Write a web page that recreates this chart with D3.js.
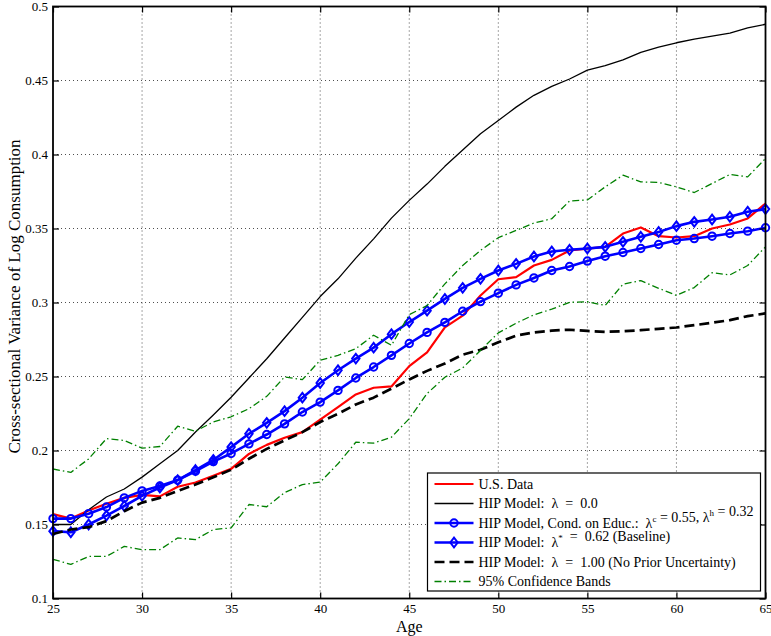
<!DOCTYPE html>
<html>
<head>
<meta charset="utf-8">
<script src="https://cdn.jsdelivr.net/npm/d3@7"></script>
<style>
  html, body { margin: 0; padding: 0; background: #fff; }
  svg text { font-family: "Liberation Serif", "Times New Roman", serif; white-space: pre; }
</style>
</head>
<body>
<svg id="chart" width="771" height="636"></svg>
<script>
// Ages on the horizontal axis
const ages = [25,26,27,28,29,30,31,32,33,34,35,36,37,38,39,40,41,42,43,44,45,
              46,47,48,49,50,51,52,53,54,55,56,57,58,59,60,61,62,63,64,65];

// Cross-sectional variance of log consumption by age
const usData = [0.157,0.154,0.1595,0.164,0.168,0.170,0.169,0.1755,0.1784,0.183,0.1876,
  0.1977,0.2038,0.2086,0.2124,0.2208,0.2293,0.2379,0.2424,0.2433,0.257,
  0.2663,0.2832,0.2911,0.3047,0.3157,0.3171,0.325,0.3288,0.3352,0.3364,
  0.3376,0.3466,0.3507,0.3448,0.3439,0.3448,0.350,0.3527,0.3568,0.3669];

const hipLambda0 = [0.150,0.150,0.160,0.1686,0.174,0.182,0.191,0.200,0.2125,0.224,0.236,
  0.249,0.262,0.276,0.290,0.304,0.316,0.330,0.343,0.357,0.369,
  0.380,0.392,0.403,0.414,0.423,0.432,0.440,0.446,0.451,0.457,
  0.460,0.464,0.469,0.4725,0.4755,0.478,0.480,0.482,0.4855,0.488];

const hipEduc = [0.154,0.154,0.1573,0.1618,0.168,0.1727,0.176,0.180,0.186,0.1925,0.198,
  0.2045,0.2108,0.218,0.226,0.2327,0.2406,0.249,0.2564,0.2643,0.2723,
  0.2798,0.2866,0.2941,0.3006,0.3063,0.3119,0.3166,0.3216,0.3243,0.328,
  0.3313,0.3338,0.3365,0.3392,0.3421,0.3432,0.3448,0.3466,0.3482,0.3505];

const hipBaseline = [0.1455,0.1448,0.150,0.156,0.1625,0.1693,0.175,0.180,0.1868,0.1936,0.2023,
  0.2113,0.2187,0.2266,0.2357,0.2456,0.2542,0.2621,0.2695,0.2786,0.2868,
  0.2945,0.3024,0.3099,0.316,0.3216,0.3261,0.3311,0.3345,0.3356,0.3365,
  0.3376,0.341,0.3444,0.3477,0.3516,0.3545,0.3561,0.3579,0.3613,0.3631];

const hipLambda1 = [0.1436,0.1466,0.1482,0.1523,0.159,0.1648,0.168,0.1727,0.177,0.182,0.187,
  0.1944,0.2011,0.2068,0.2124,0.2192,0.2248,0.2311,0.2357,0.2418,0.248,
  0.2538,0.2588,0.2647,0.2681,0.2731,0.2776,0.2798,0.281,0.2816,0.2808,
  0.2802,0.2806,0.2813,0.2822,0.2831,0.2847,0.2863,0.2881,0.2908,0.2926];

const bandUpper = [0.1875,0.1852,0.1943,0.208,0.2068,0.2016,0.2027,0.2164,0.213,0.2193,0.2228,
  0.2282,0.2366,0.2497,0.2479,0.261,0.2643,0.2688,0.2779,0.2711,0.2918,
  0.2979,0.3126,0.325,0.3352,0.3438,0.3487,0.3537,0.3566,0.3686,0.3693,
  0.3781,0.386,0.3815,0.3811,0.3781,0.3743,0.3804,0.3865,0.3849,0.3973];

const bandLower = [0.1265,0.1230,0.1284,0.1284,0.1352,0.133,0.133,0.1409,0.1398,0.1466,0.1477,
  0.1635,0.162,0.1715,0.177,0.1786,0.191,0.2056,0.205,0.209,0.2215,
  0.2385,0.2495,0.2558,0.2676,0.2795,0.286,0.2917,0.2955,0.3001,0.3005,
  0.2980,0.3124,0.3148,0.3096,0.3048,0.3101,0.3201,0.3186,0.3250,0.3376];

// Tick values and labels
const xTicks = [25,30,35,40,45,50,55,60,65];
const yTicks = [0.1,0.15,0.2,0.25,0.3,0.35,0.4,0.45,0.5];
const yTickLabels = ["0.1","0.15","0.2","0.25","0.3","0.35","0.4","0.45","0.5"];

// Legend entries (label parts: [text, superscript])
const legendLabels = [
  [["U.S. Data", null]],
  [["HIP Model:  \u03bb  =  0.0", null]],
  [["HIP Model, Cond. on Educ.:  \u03bb", "c"], [" = 0.55, \u03bb", "h"], [" = 0.32", null]],
  [["HIP Model:  \u03bb", "*"], ["  =  0.62 (Baseline)", null]],
  [["HIP Model:  \u03bb  =  1.00 (No Prior Uncertainty)", null]],
  [["95% Confidence Bands", null]]
];

const svg = d3.select("#chart");
const plot = { left: 53, right: 765.5, top: 6.5, bottom: 598.5 };

const x = d3.scaleLinear().domain([25, 65]).range([plot.left, plot.right]);
const y = d3.scaleLinear().domain([0.1, 0.5]).range([plot.bottom, plot.top]);

// Dotted grid
const grid = svg.append("g").attr("stroke", "#222").attr("stroke-width", 0.8)
  .attr("stroke-dasharray", "1,3");
grid.selectAll("line.v").data(xTicks.slice(1, -1)).join("line")
  .attr("x1", d => x(d)).attr("x2", d => x(d))
  .attr("y1", plot.top).attr("y2", plot.bottom);
grid.selectAll("line.h").data(yTicks.slice(1, -1)).join("line")
  .attr("x1", plot.left).attr("x2", plot.right)
  .attr("y1", d => y(d)).attr("y2", d => y(d));

// Series styles
const series = [
  { values: usData,      color: "#ff0000", width: 2.2, dash: null },
  { values: hipLambda0,  color: "#000000", width: 1.3, dash: null },
  { values: hipEduc,     color: "#0000ff", width: 2.6, dash: null, marker: "circle" },
  { values: hipBaseline, color: "#0000ff", width: 2.6, dash: null, marker: "diamond" },
  { values: hipLambda1,  color: "#000000", width: 2.7, dash: "10,5" },
  { values: bandUpper,   color: "#008000", width: 1.3, dash: "7,3,1.5,3" },
  { values: bandLower,   color: "#008000", width: 1.3, dash: "7,3,1.5,3" }
];

const line = d3.line().x(d => x(d[0])).y(d => y(d[1]));
const diamondPath = "M0,-4.8L3.7,0L0,4.8L-3.7,0Z";

const dataLayer = svg.append("g");
series.forEach(s => {
  const pts = ages.map((a, i) => [a, s.values[i]]);
  dataLayer.append("path")
    .attr("d", line(pts))
    .attr("fill", "none")
    .attr("stroke", s.color)
    .attr("stroke-width", s.width)
    .attr("stroke-linejoin", "round")
    .attr("stroke-dasharray", s.dash);
  if (s.marker === "circle") {
    dataLayer.append("g").selectAll("circle").data(pts).join("circle")
      .attr("cx", d => x(d[0])).attr("cy", d => y(d[1])).attr("r", 3.7)
      .attr("fill", "none").attr("stroke", s.color).attr("stroke-width", 2);
  } else if (s.marker === "diamond") {
    dataLayer.append("g").selectAll("path").data(pts).join("path")
      .attr("transform", d => `translate(${x(d[0])},${y(d[1])})`)
      .attr("d", diamondPath)
      .attr("fill", "none").attr("stroke", s.color).attr("stroke-width", 2);
  }
});

// Axes with inward ticks on all four sides
const fontSize = 13;
const xAxis = svg.append("g").attr("transform", `translate(0,${plot.bottom})`)
  .call(d3.axisBottom(x).tickValues(xTicks).tickFormat(d3.format("d"))
    .tickSizeInner(-6).tickSizeOuter(0).tickPadding(5));
const yAxis = svg.append("g").attr("transform", `translate(${plot.left},0)`)
  .call(d3.axisLeft(y).tickValues(yTicks).tickFormat((d, i) => yTickLabels[i])
    .tickSizeInner(-6).tickSizeOuter(0).tickPadding(5));
const xTop = svg.append("g").attr("transform", `translate(0,${plot.top})`)
  .call(d3.axisTop(x).tickValues(xTicks).tickFormat("").tickSizeInner(-6).tickSizeOuter(0));
const yRight = svg.append("g").attr("transform", `translate(${plot.right},0)`)
  .call(d3.axisRight(y).tickValues(yTicks).tickFormat("").tickSizeInner(-6).tickSizeOuter(0));

[xAxis, yAxis, xTop, yRight].forEach(g => {
  g.select(".domain").remove();
  g.selectAll(".tick line").attr("stroke", "#000").attr("stroke-width", 1.2);
  g.selectAll("text").attr("fill", "#000").attr("font-size", fontSize)
    .attr("font-family", "Liberation Serif, Times New Roman, serif");
});

// Frame
svg.append("rect")
  .attr("x", plot.left).attr("y", plot.top)
  .attr("width", plot.right - plot.left).attr("height", plot.bottom - plot.top)
  .attr("fill", "none").attr("stroke", "#000").attr("stroke-width", 1.8);

// Axis titles
svg.append("text")
  .attr("x", (plot.left + plot.right) / 2).attr("y", 632)
  .attr("text-anchor", "middle").attr("font-size", 16)
  .text("Age");
svg.append("text")
  .attr("transform", `translate(20,${(plot.top + plot.bottom) / 2 - 6}) rotate(-90)`)
  .attr("text-anchor", "middle").attr("font-size", 17)
  .text("Cross-sectional Variance of Log Consumption");

// Legend
const legend = { x: 427.5, y: 473, w: 333, h: 118, rowH: 19.5, firstRow: 484 };
const lg = svg.append("g");
lg.append("rect")
  .attr("x", legend.x).attr("y", legend.y).attr("width", legend.w).attr("height", legend.h)
  .attr("fill", "#fff").attr("stroke", "#000").attr("stroke-width", 1.2);

const legendSeries = series.slice(0, 6);
legendSeries.forEach((s, i) => {
  const cy = legend.firstRow + i * legend.rowH;
  const x1 = legend.x + 7, x2 = legend.x + 46, xm = (x1 + x2) / 2;
  lg.append("line").attr("x1", x1).attr("x2", x2).attr("y1", cy).attr("y2", cy)
    .attr("stroke", s.color).attr("stroke-width", s.width)
    .attr("stroke-dasharray", s.dash);
  if (s.marker === "circle") {
    lg.append("circle").attr("cx", xm).attr("cy", cy).attr("r", 3.7)
      .attr("fill", "none").attr("stroke", s.color).attr("stroke-width", 2);
  } else if (s.marker === "diamond") {
    lg.append("path").attr("transform", `translate(${xm},${cy})`).attr("d", diamondPath)
      .attr("fill", "none").attr("stroke", s.color).attr("stroke-width", 2);
  }
  const t = lg.append("text").attr("x", legend.x + 51).attr("y", cy + 4.8)
    .attr("font-size", 14);
  legendLabels[i].forEach(([txt, sup]) => {
    t.append("tspan").text(txt);
    if (sup) {
      t.append("tspan").attr("font-size", 9).attr("dy", -6).text(sup);
      t.append("tspan").attr("dy", 6).text("");
    }
  });
});
</script>
</body>
</html>
